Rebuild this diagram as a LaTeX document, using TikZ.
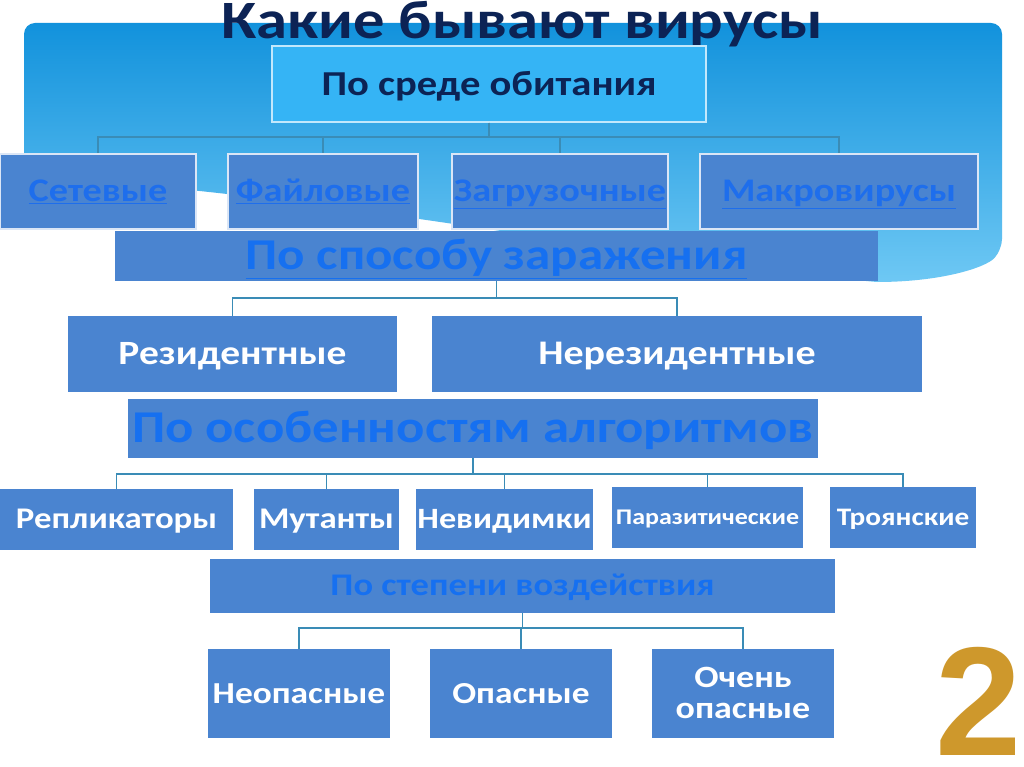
\documentclass[tikz,border=0pt]{standalone}
\usepackage{fontspec}
\setmainfont{Carlito}[FakeStretch=1.16]
\newfontfamily\digitfont{Liberation Sans}
\definecolor{boxblue}{RGB}{74,132,208}
\definecolor{topcyan}{RGB}{53,180,245}
\definecolor{linkblue}{RGB}{30,110,236}
\definecolor{headblue}{RGB}{22,112,240}
\definecolor{navy}{RGB}{12,35,85}
\definecolor{conn}{RGB}{58,140,182}
\definecolor{bgtop}{RGB}{18,146,220}
\definecolor{bgbot}{RGB}{110,200,244}
\definecolor{gold}{RGB}{206,152,44}
\newcommand{\fs}[1]{\fontsize{#1}{#1}\selectfont}
\newcommand{\cc}[1]{\raisebox{0pt}[0.63em][0pt]{#1}}
\tikzset{
  box/.style={fill=boxblue, inner sep=0pt, align=center, font=\bfseries},
  rowone/.style={box, draw=white!80!boxblue, line width=1.2pt, text=linkblue, font=\bfseries\fs{33}},
  whitebox/.style={box, text=white},
  headbox/.style={box, text=headblue},
  link/.style={draw=conn, line width=1.4pt}
}
\begin{document}
\begin{tikzpicture}[x=1pt,y=-1pt]
\useasboundingbox (0,0) rectangle (1024,767);
\fill[white] (0,0) rectangle (1024,767);
% background blue band
\shade[top color=bgtop, bottom color=bgbot]
  (24,176) [rounded corners=11pt] -- (24,23) -- (1002,23) -- (1002,250) [sharp corners]
  .. controls (985,268) and (940,282) .. (877,282)
  .. controls (650,262) and (350,196) .. (24,176) -- cycle;
% title
\node[anchor=base, text=navy, font=\bfseries\fs{54}] (title) at (522,39) {Какие бывают вирусы};
% level 1
\node[box, fill=topcyan, draw=white!70!topcyan, line width=1.6pt, minimum width=434pt, minimum height=76pt, text=navy, font=\bfseries\fs{35}] (top) at (489,84) {\cc{По среде обитания}};
\node[rowone, minimum width=196pt, minimum height=75pt] (set) at (98,191.5) {\cc{\underline{Сетевые}}};
\node[rowone, minimum width=190pt, minimum height=75pt] (fil) at (323,191.5) {\cc{\underline{Файловые}}};
\node[rowone, minimum width=216pt, minimum height=75pt] (zag) at (560,191.5) {\cc{\underline{Загрузочные}}};
\node[rowone, minimum width=278pt, minimum height=75pt] (mak) at (839,191.5) {\cc{\underline{Макровирусы}}};
% level 2
\node[headbox, minimum width=763pt, minimum height=50pt, font=\bfseries\fs{44}] (spo) at (496.5,256) {\cc{\underline{По способу заражения}}};
\node[whitebox, minimum width=329pt, minimum height=76pt, font=\bfseries\fs{34}] (rez) at (232.5,354) {\cc{Резидентные}};
\node[whitebox, minimum width=490pt, minimum height=76pt, font=\bfseries\fs{34.5}] (nrez) at (677,354) {\cc{Нерезидентные}};
% level 3
\node[headbox, minimum width=690pt, minimum height=59pt, font=\bfseries\fs{45.5}] (alg) at (473,428.5) {\cc{По особенностям алгоритмов}};
\node[whitebox, minimum width=233pt, minimum height=61pt, font=\bfseries\fs{30}] (rep) at (116.5,519.5) {\cc{Репликаторы}};
\node[whitebox, minimum width=145pt, minimum height=61pt, font=\bfseries\fs{30}] (mut) at (326.5,519.5) {\cc{Мутанты}};
\node[whitebox, minimum width=177pt, minimum height=61pt, font=\bfseries\fs{29.5}] (nev) at (504.5,519.5) {\cc{Невидимки}};
\node[whitebox, minimum width=191pt, minimum height=61pt, font=\bfseries\fs{22.4}] (par) at (707.5,517.5) {\cc{Паразитические}};
\node[whitebox, minimum width=146pt, minimum height=61pt, font=\bfseries\fs{25.2}] (tro) at (903,517.5) {\cc{Троянские}};
% level 4
\node[headbox, minimum width=625pt, minimum height=54pt, font=\bfseries\fs{31.5}] (ste) at (522.5,586) {\cc{По степени воздействия}};
\node[whitebox, minimum width=182pt, minimum height=89pt, font=\bfseries\fs{30.5}] (neo) at (299,693.5) {\cc{Неопасные}};
\node[whitebox, minimum width=182pt, minimum height=89pt, font=\bfseries\fs{30.5}] (opa) at (521,693.5) {\cc{Опасные}};
\node[whitebox, minimum width=182pt, minimum height=89pt, font=\bfseries\fs{31}, align=center] (oop) at (743,693.5) {\fontsize{31}{39}\selectfont \cc{Очень}\\ \cc{опасные}};
% connectors
\foreach \n in {set,fil,zag,mak}{\draw[link] (top.south) -- (top.south |- 0,137) -| (\n.north);}
\foreach \n in {rez,nrez}{\draw[link] (spo.south) -- (spo.south |- 0,298) -| (\n.north);}
\foreach \n in {rep,mut,nev,par,tro}{\draw[link] (alg.south) -- (alg.south |- 0,474) -| (\n.north);}
\foreach \n in {neo,opa,oop}{\draw[link] (ste.south) -- (ste.south |- 0,628) -| (\n.north);}
% gold digit
\node[anchor=base, inner sep=0pt, text=gold, font=\digitfont\bfseries\fs{155}] (two) at (979,755) {2};
\end{tikzpicture}
\end{document}
